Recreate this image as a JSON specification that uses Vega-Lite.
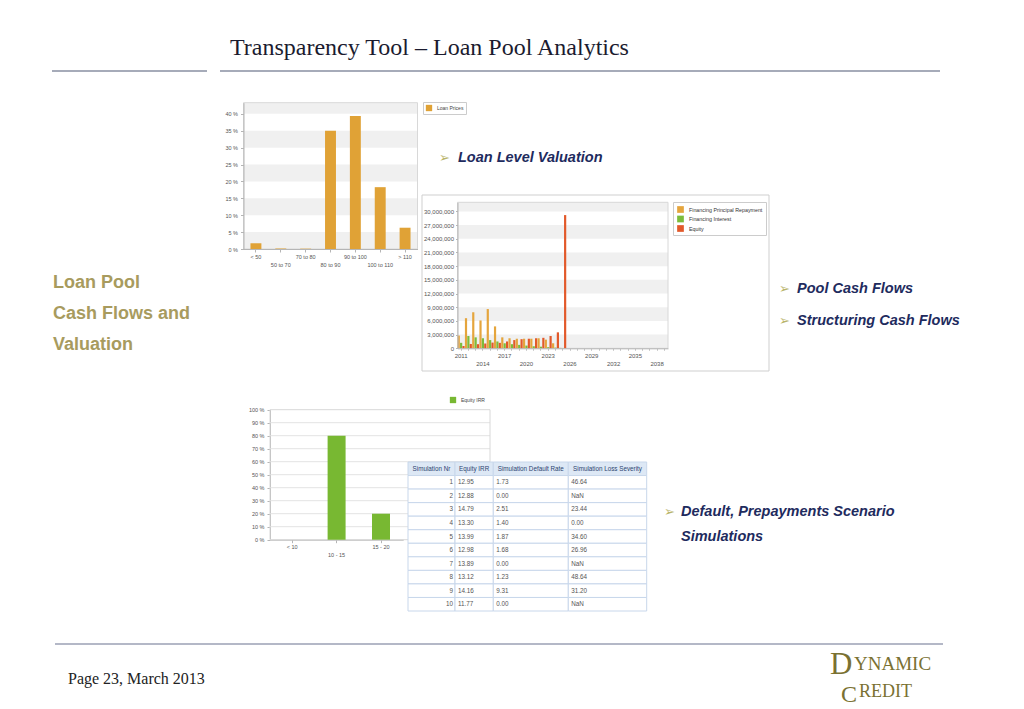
{
"$schema": "https://vega.github.io/schema/vega-lite/v6.json",
"width": 1024, "height": 709,
"autosize": {"type": "none"},
"padding": 0,
"background": "#ffffff",
"config": {"view": {"stroke": null}, "font": "Liberation Sans", "axis": {"labelFont": "Liberation Sans", "grid": false}, "legend": {"labelFont": "Liberation Sans"}},
"datasets": {
  "loanPrices": [
    {"range": "< 50", "share": 1.7},
    {"range": "50 to 70", "share": 0.15},
    {"range": "70 to 80", "share": 0.1},
    {"range": "80 to 90", "share": 35.0},
    {"range": "90 to 100", "share": 39.4},
    {"range": "100 to 110", "share": 18.3},
    {"range": "> 110", "share": 6.3}
  ],
  "loanBands": [{"lo": 0, "hi": 5}, {"lo": 10, "hi": 15}, {"lo": 20, "hi": 25}, {"lo": 30, "hi": 35}, {"lo": 40, "hi": 43.3}],
  "cfBands": [{"lo": 0, "hi": 3000000}, {"lo": 6000000, "hi": 9000000}, {"lo": 12000000, "hi": 15000000}, {"lo": 18000000, "hi": 21000000}, {"lo": 24000000, "hi": 27000000}, {"lo": 30000000, "hi": 32000000}],
  "cashFlows": [
    {"year": 2011, "series": "Financing Principal Repayment", "value": 2800000},
    {"year": 2011, "series": "Financing Interest", "value": 1200000},
    {"year": 2011, "series": "Equity", "value": 500000},
    {"year": 2012, "series": "Financing Principal Repayment", "value": 6600000},
    {"year": 2012, "series": "Financing Interest", "value": 2700000},
    {"year": 2012, "series": "Equity", "value": 950000},
    {"year": 2013, "series": "Financing Principal Repayment", "value": 7900000},
    {"year": 2013, "series": "Financing Interest", "value": 2400000},
    {"year": 2013, "series": "Equity", "value": 900000},
    {"year": 2014, "series": "Financing Principal Repayment", "value": 6100000},
    {"year": 2014, "series": "Financing Interest", "value": 2200000},
    {"year": 2014, "series": "Equity", "value": 1050000},
    {"year": 2015, "series": "Financing Principal Repayment", "value": 8600000},
    {"year": 2015, "series": "Financing Interest", "value": 1800000},
    {"year": 2015, "series": "Equity", "value": 1250000},
    {"year": 2016, "series": "Financing Principal Repayment", "value": 4800000},
    {"year": 2016, "series": "Financing Interest", "value": 1500000},
    {"year": 2016, "series": "Equity", "value": 1200000},
    {"year": 2017, "series": "Financing Principal Repayment", "value": 2400000},
    {"year": 2017, "series": "Financing Interest", "value": 1100000},
    {"year": 2017, "series": "Equity", "value": 1500000},
    {"year": 2018, "series": "Financing Principal Repayment", "value": 2200000},
    {"year": 2018, "series": "Financing Interest", "value": 900000},
    {"year": 2018, "series": "Equity", "value": 1800000},
    {"year": 2019, "series": "Financing Principal Repayment", "value": 2100000},
    {"year": 2019, "series": "Financing Interest", "value": 750000},
    {"year": 2019, "series": "Equity", "value": 2000000},
    {"year": 2020, "series": "Financing Principal Repayment", "value": 2100000},
    {"year": 2020, "series": "Financing Interest", "value": 600000},
    {"year": 2020, "series": "Equity", "value": 2100000},
    {"year": 2021, "series": "Financing Principal Repayment", "value": 2100000},
    {"year": 2021, "series": "Financing Interest", "value": 450000},
    {"year": 2021, "series": "Equity", "value": 2200000},
    {"year": 2022, "series": "Financing Principal Repayment", "value": 2200000},
    {"year": 2022, "series": "Financing Interest", "value": 350000},
    {"year": 2022, "series": "Equity", "value": 2300000},
    {"year": 2023, "series": "Financing Principal Repayment", "value": 1900000},
    {"year": 2023, "series": "Financing Interest", "value": 250000},
    {"year": 2023, "series": "Equity", "value": 2700000},
    {"year": 2024, "series": "Financing Principal Repayment", "value": 1100000},
    {"year": 2024, "series": "Financing Interest", "value": 150000},
    {"year": 2024, "series": "Equity", "value": 3500000},
    {"year": 2025, "series": "Financing Principal Repayment", "value": 100000},
    {"year": 2025, "series": "Financing Interest", "value": 50000},
    {"year": 2025, "series": "Equity", "value": 29200000}
  ],
  "equityIrr": [
    {"bucket": "< 10", "share": 0},
    {"bucket": "10 - 15", "share": 80},
    {"bucket": "15 - 20", "share": 20}
  ],
  "irrGrid": [{"v": 10}, {"v": 20}, {"v": 30}, {"v": 40}, {"v": 50}, {"v": 60}, {"v": 70}, {"v": 80}, {"v": 90}],
  "simTable": [
    {"row": "H", "sim": "Simulation Nr", "irr": "Equity IRR", "dr": "Simulation Default Rate", "ls": "Simulation Loss Severity"},
    {"row": "1", "sim": "1", "irr": "12.95", "dr": "1.73", "ls": "46.64"},
    {"row": "2", "sim": "2", "irr": "12.88", "dr": "0.00", "ls": "NaN"},
    {"row": "3", "sim": "3", "irr": "14.79", "dr": "2.51", "ls": "23.44"},
    {"row": "4", "sim": "4", "irr": "13.30", "dr": "1.40", "ls": "0.00"},
    {"row": "5", "sim": "5", "irr": "13.99", "dr": "1.87", "ls": "34.60"},
    {"row": "6", "sim": "6", "irr": "12.98", "dr": "1.68", "ls": "26.96"},
    {"row": "7", "sim": "7", "irr": "13.89", "dr": "0.00", "ls": "NaN"},
    {"row": "8", "sim": "8", "irr": "13.12", "dr": "1.23", "ls": "48.64"},
    {"row": "9", "sim": "9", "irr": "14.16", "dr": "9.31", "ls": "31.20"},
    {"row": "10", "sim": "10", "irr": "11.77", "dr": "0.00", "ls": "NaN"}
  ]
},
"layer": [
  {"data": {"values": [{"label": "Transparency Tool – Loan Pool Analytics"}]},
   "mark": {"type": "text", "font": "Liberation Serif", "fontSize": 24, "color": "#1b1b2f", "align": "left", "baseline": "alphabetic"},
   "encoding": {"text": {"field": "label", "type": "nominal"}, "x": {"value": 230}, "y": {"value": 55}}},
  {"data": {"values": [{}]}, "mark": {"type": "rule", "color": "#4f5975", "strokeWidth": 1.2},
   "encoding": {"x": {"value": 52}, "x2": {"value": 207}, "y": {"value": 71}}},
  {"data": {"values": [{}]}, "mark": {"type": "rule", "color": "#4f5975", "strokeWidth": 1.2},
   "encoding": {"x": {"value": 220}, "x2": {"value": 940}, "y": {"value": 71}}},
  {"data": {"values": [{"label": "Loan Pool\nCash Flows and\nValuation"}]},
   "mark": {"type": "text", "fontSize": 18, "fontWeight": "bold", "color": "#a89b5e", "align": "left", "baseline": "alphabetic", "lineBreak": "\n", "lineHeight": 31},
   "encoding": {"text": {"field": "label", "type": "nominal"}, "x": {"value": 53}, "y": {"value": 288}}},
  {"data": {"values": [{"label": "➢"}]},
   "mark": {"type": "text", "font": "DejaVu Sans", "fontSize": 13, "color": "#b9b46a", "align": "left", "baseline": "alphabetic"},
   "encoding": {"text": {"field": "label", "type": "nominal"}, "x": {"value": 439}, "y": {"value": 162}}},
  {"data": {"values": [{"label": "➢\n➢"}]},
   "mark": {"type": "text", "font": "DejaVu Sans", "fontSize": 13, "color": "#b9b46a", "align": "left", "baseline": "alphabetic", "lineBreak": "\n", "lineHeight": 32},
   "encoding": {"text": {"field": "label", "type": "nominal"}, "x": {"value": 779}, "y": {"value": 293}}},
  {"data": {"values": [{"label": "➢"}]},
   "mark": {"type": "text", "font": "DejaVu Sans", "fontSize": 13, "color": "#b9b46a", "align": "left", "baseline": "alphabetic"},
   "encoding": {"text": {"field": "label", "type": "nominal"}, "x": {"value": 664}, "y": {"value": 516}}},
  {"data": {"values": [{"label": "Loan Level Valuation"}]},
   "mark": {"type": "text", "fontSize": 14.5, "fontWeight": "bold", "fontStyle": "italic", "color": "#1e2b5e", "align": "left", "baseline": "alphabetic"},
   "encoding": {"text": {"field": "label", "type": "nominal"}, "x": {"value": 458}, "y": {"value": 162}}},
  {"data": {"values": [{"label": "Pool Cash Flows\nStructuring Cash Flows"}]},
   "mark": {"type": "text", "fontSize": 14.5, "fontWeight": "bold", "fontStyle": "italic", "color": "#1e2b5e", "align": "left", "baseline": "alphabetic", "lineBreak": "\n", "lineHeight": 32},
   "encoding": {"text": {"field": "label", "type": "nominal"}, "x": {"value": 797}, "y": {"value": 293}}},
  {"data": {"values": [{"label": "Default, Prepayments Scenario\nSimulations"}]},
   "mark": {"type": "text", "fontSize": 14.5, "fontWeight": "bold", "fontStyle": "italic", "color": "#1e2b5e", "align": "left", "baseline": "alphabetic", "lineBreak": "\n", "lineHeight": 25},
   "encoding": {"text": {"field": "label", "type": "nominal"}, "x": {"value": 681}, "y": {"value": 516}}},

  {"data": {"name": "loanBands"}, "mark": {"type": "rect", "color": "#f0f0f0"},
   "encoding": {
     "x": {"datum": 0, "type": "quantitative", "scale": {"domain": [0, 1], "range": [243.5, 417.5], "nice": false}, "axis": null},
     "x2": {"datum": 1},
     "y": {"field": "lo", "type": "quantitative", "scale": {"domain": [0, 43.3], "range": [249, 102.7], "nice": false}, "axis": null},
     "y2": {"field": "hi"}}},
  {"data": {"values": [{}]}, "mark": {"type": "rect", "fill": "transparent", "stroke": "#d8d8d8", "strokeWidth": 1},
   "encoding": {
     "x": {"datum": 0, "type": "quantitative", "scale": {"domain": [0, 1], "range": [243.5, 417.5], "nice": false}, "axis": null},
     "x2": {"datum": 1},
     "y": {"datum": 0, "type": "quantitative", "scale": {"domain": [0, 43.3], "range": [249, 102.7], "nice": false}, "axis": null},
     "y2": {"datum": 43.3}}},
  {"data": {"name": "loanPrices"}, "mark": {"type": "bar"},
   "encoding": {
     "x": {"field": "range", "type": "nominal", "sort": null,
           "scale": {"domain": ["< 50", "50 to 70", "70 to 80", "80 to 90", "90 to 100", "100 to 110", "> 110"], "range": [243.5, 417.5], "paddingInner": 0.56, "paddingOuter": 0.28},
           "axis": {"orient": "bottom", "offset": -460, "title": null, "zindex": 1, "domainColor": "#b5b5b5", "tickColor": "#b5b5b5", "tickSize": 3, "labelFontSize": 5.5, "labelColor": "#555555", "labelAngle": 0, "labelPadding": 2, "labelLineHeight": 8.5, "labelOverlap": false, "labelBound": false,
                    "labelExpr": "indexof(['50 to 70', '80 to 90', '100 to 110'], datum.value) >= 0 ? ['', datum.value] : datum.value"}},
     "y": {"field": "share", "type": "quantitative", "stack": null,
           "scale": {"domain": [0, 43.3], "range": [249, 102.7], "nice": false},
           "axis": {"orient": "left", "offset": -243.5, "title": null, "zindex": 1, "values": [0, 5, 10, 15, 20, 25, 30, 35, 40], "labelExpr": "datum.value + ' %'", "domainColor": "#b5b5b5", "tickColor": "#b5b5b5", "tickSize": 3, "labelFontSize": 5.5, "labelColor": "#555555", "labelPadding": 3}},
     "color": {"datum": "Loan Prices", "type": "nominal", "scale": {"range": ["#e0a236"]},
               "legend": {"title": null, "orient": "none", "legendX": 423, "legendY": 102, "padding": 2, "strokeColor": "#cccccc", "fillColor": "#ffffff", "symbolType": "square", "symbolSize": 40, "labelFontSize": 5, "labelColor": "#444444"}}}},

  {"data": {"values": [{}]}, "mark": {"type": "rect", "fill": "transparent", "stroke": "#cfcfcf", "strokeWidth": 1},
   "encoding": {
     "x": {"datum": 0, "type": "quantitative", "scale": {"domain": [0, 1], "range": [422, 769], "nice": false}, "axis": null},
     "x2": {"datum": 1},
     "y": {"datum": 0, "type": "quantitative", "scale": {"domain": [0, 1], "range": [371, 195], "nice": false}, "axis": null},
     "y2": {"datum": 1}}},
  {"data": {"name": "cfBands"}, "mark": {"type": "rect", "color": "#f0f0f0"},
   "encoding": {
     "x": {"datum": 0, "type": "quantitative", "scale": {"domain": [0, 1], "range": [457.5, 668], "nice": false}, "axis": null},
     "x2": {"datum": 1},
     "y": {"field": "lo", "type": "quantitative", "scale": {"domain": [0, 32000000], "range": [348.3, 202.3], "nice": false}, "axis": null},
     "y2": {"field": "hi"}}},
  {"data": {"values": [{}]}, "mark": {"type": "rect", "fill": "transparent", "stroke": "#d8d8d8", "strokeWidth": 1},
   "encoding": {
     "x": {"datum": 0, "type": "quantitative", "scale": {"domain": [0, 1], "range": [457.5, 668], "nice": false}, "axis": null},
     "x2": {"datum": 1},
     "y": {"datum": 0, "type": "quantitative", "scale": {"domain": [0, 32000000], "range": [348.3, 202.3], "nice": false}, "axis": null},
     "y2": {"datum": 32000000}}},
  {"data": {"name": "cashFlows"}, "mark": {"type": "bar"},
   "encoding": {
     "x": {"field": "year", "type": "ordinal",
           "scale": {"domain": [2011, 2012, 2013, 2014, 2015, 2016, 2017, 2018, 2019, 2020, 2021, 2022, 2023, 2024, 2025, 2026, 2027, 2028, 2029, 2030, 2031, 2032, 2033, 2034, 2035, 2036, 2037, 2038, 2039], "range": [457.5, 668], "paddingInner": 0.04, "paddingOuter": 0.02},
           "axis": {"orient": "bottom", "offset": -360.7, "title": null, "zindex": 1, "domainColor": "#b5b5b5", "tickColor": "#c5c5c5", "tickSize": 2, "labelFontSize": 6, "labelColor": "#555555", "labelAngle": 0, "labelPadding": 2, "labelLineHeight": 8.3, "labelOverlap": false, "labelBound": false,
                    "labelExpr": "(datum.value - 2011) % 6 == 0 ? '' + datum.value : ((datum.value - 2011) % 3 == 0 ? ['', '' + datum.value] : '')"}},
     "xOffset": {"field": "series", "type": "nominal", "scale": {"domain": ["Financing Principal Repayment", "Financing Interest", "Equity"], "paddingInner": 0.08}},
     "y": {"field": "value", "type": "quantitative", "stack": null,
           "scale": {"domain": [0, 32000000], "range": [348.3, 202.3], "nice": false},
           "axis": {"orient": "left", "offset": -457.5, "title": null, "zindex": 1, "values": [0, 3000000, 6000000, 9000000, 12000000, 15000000, 18000000, 21000000, 24000000, 27000000, 30000000], "format": ",d", "domainColor": "#b5b5b5", "tickColor": "#b5b5b5", "tickSize": 2, "labelFontSize": 6, "labelColor": "#555555", "labelPadding": 2}},
     "color": {"field": "series", "type": "nominal",
               "scale": {"domain": ["Financing Principal Repayment", "Financing Interest", "Equity"], "range": ["#e5a53d", "#7cbc3b", "#e2592a"]},
               "legend": {"title": null, "orient": "none", "legendX": 673, "legendY": 202, "padding": 3, "strokeColor": "#cccccc", "fillColor": "#ffffff", "symbolType": "square", "symbolSize": 45, "labelFontSize": 5.3, "rowPadding": 1.5, "labelColor": "#333333", "labelLimit": 200}}}},

  {"data": {"name": "irrGrid"}, "mark": {"type": "rule", "color": "#e3e3e3", "strokeWidth": 1},
   "encoding": {
     "x": {"datum": 0, "type": "quantitative", "scale": {"domain": [0, 1], "range": [270, 490], "nice": false}, "axis": null},
     "x2": {"datum": 1},
     "y": {"field": "v", "type": "quantitative", "scale": {"domain": [0, 100], "range": [539.7, 409.7], "nice": false}, "axis": null}}},
  {"data": {"values": [{}]}, "mark": {"type": "rect", "fill": "transparent", "stroke": "#d8d8d8", "strokeWidth": 1},
   "encoding": {
     "x": {"datum": 0, "type": "quantitative", "scale": {"domain": [0, 1], "range": [270, 490], "nice": false}, "axis": null},
     "x2": {"datum": 1},
     "y": {"datum": 0, "type": "quantitative", "scale": {"domain": [0, 100], "range": [539.7, 409.7], "nice": false}, "axis": null},
     "y2": {"datum": 100}}},
  {"data": {"name": "equityIrr"}, "mark": {"type": "bar"},
   "encoding": {
     "x": {"field": "bucket", "type": "nominal", "sort": null,
           "scale": {"domain": ["< 10", "10 - 15", "15 - 20"], "range": [270, 403.2], "paddingInner": 0.595, "paddingOuter": 0.2975},
           "axis": {"orient": "bottom", "offset": -169.3, "title": null, "domainColor": "#b5b5b5", "tickColor": "#b5b5b5", "tickSize": 3, "labelFontSize": 5.5, "labelColor": "#555555", "labelAngle": 0, "labelPadding": 2, "labelLineHeight": 7.5, "labelOverlap": false, "labelBound": false,
                    "labelExpr": "datum.value == '10 - 15' ? ['', datum.value] : datum.value"}},
     "y": {"field": "share", "type": "quantitative", "stack": null,
           "scale": {"domain": [0, 100], "range": [539.7, 409.7], "nice": false},
           "axis": {"orient": "left", "offset": -270, "title": null, "values": [0, 10, 20, 30, 40, 50, 60, 70, 80, 90, 100], "labelExpr": "datum.value + ' %'", "domainColor": "#b5b5b5", "tickColor": "#b5b5b5", "tickSize": 3, "labelFontSize": 5.5, "labelColor": "#555555", "labelPadding": 3}},
     "color": {"datum": "Equity IRR", "type": "nominal", "scale": {"range": ["#78b832"]},
               "legend": {"title": null, "orient": "none", "legendX": 448, "legendY": 395, "padding": 1, "symbolType": "square", "symbolSize": 40, "labelFontSize": 5, "labelColor": "#444444"}}}},

  {"data": {"name": "simTable"}, "mark": {"type": "rect", "stroke": "#c8d7eb", "strokeWidth": 1},
   "encoding": {
     "x": {"datum": "Simulation Nr", "type": "nominal", "scale": {"domain": ["Simulation Nr"], "range": [408, 455], "paddingInner": 0, "paddingOuter": 0}, "axis": null},
     "y": {"field": "row", "type": "ordinal", "scale": {"domain": ["H", "1", "2", "3", "4", "5", "6", "7", "8", "9", "10"], "range": [462, 611], "paddingInner": 0, "paddingOuter": 0}, "axis": null},
     "fill": {"condition": {"test": "datum.row === 'H'", "value": "#dde8f5"}, "value": "#ffffff"}}},
  {"data": {"name": "simTable"}, "mark": {"type": "rect", "stroke": "#c8d7eb", "strokeWidth": 1},
   "encoding": {
     "x": {"datum": "Equity IRR", "type": "nominal", "scale": {"domain": ["Equity IRR"], "range": [455, 493.3], "paddingInner": 0, "paddingOuter": 0}, "axis": null},
     "y": {"field": "row", "type": "ordinal", "scale": {"domain": ["H", "1", "2", "3", "4", "5", "6", "7", "8", "9", "10"], "range": [462, 611], "paddingInner": 0, "paddingOuter": 0}, "axis": null},
     "fill": {"condition": {"test": "datum.row === 'H'", "value": "#dde8f5"}, "value": "#ffffff"}}},
  {"data": {"name": "simTable"}, "mark": {"type": "rect", "stroke": "#c8d7eb", "strokeWidth": 1},
   "encoding": {
     "x": {"datum": "Simulation Default Rate", "type": "nominal", "scale": {"domain": ["Simulation Default Rate"], "range": [493.3, 568.3], "paddingInner": 0, "paddingOuter": 0}, "axis": null},
     "y": {"field": "row", "type": "ordinal", "scale": {"domain": ["H", "1", "2", "3", "4", "5", "6", "7", "8", "9", "10"], "range": [462, 611], "paddingInner": 0, "paddingOuter": 0}, "axis": null},
     "fill": {"condition": {"test": "datum.row === 'H'", "value": "#dde8f5"}, "value": "#ffffff"}}},
  {"data": {"name": "simTable"}, "mark": {"type": "rect", "stroke": "#c8d7eb", "strokeWidth": 1},
   "encoding": {
     "x": {"datum": "Simulation Loss Severity", "type": "nominal", "scale": {"domain": ["Simulation Loss Severity"], "range": [568.3, 646.7], "paddingInner": 0, "paddingOuter": 0}, "axis": null},
     "y": {"field": "row", "type": "ordinal", "scale": {"domain": ["H", "1", "2", "3", "4", "5", "6", "7", "8", "9", "10"], "range": [462, 611], "paddingInner": 0, "paddingOuter": 0}, "axis": null},
     "fill": {"condition": {"test": "datum.row === 'H'", "value": "#dde8f5"}, "value": "#ffffff"}}},

  {"data": {"name": "simTable"}, "transform": [{"filter": "datum.row === 'H'"}],
   "mark": {"type": "text", "fontSize": 6.3, "color": "#2c4470", "align": "center", "baseline": "middle"},
   "encoding": {
     "x": {"datum": "Simulation Nr", "type": "nominal", "scale": {"domain": ["Simulation Nr"], "range": [408, 455]}, "axis": null},
     "y": {"field": "row", "type": "ordinal", "scale": {"domain": ["H", "1", "2", "3", "4", "5", "6", "7", "8", "9", "10"], "range": [462, 611], "paddingInner": 0, "paddingOuter": 0}, "axis": null},
     "text": {"field": "sim", "type": "nominal"}}},
  {"data": {"name": "simTable"}, "transform": [{"filter": "datum.row !== 'H'"}],
   "mark": {"type": "text", "fontSize": 6.3, "color": "#555555", "align": "right", "baseline": "middle"},
   "encoding": {
     "x": {"datum": "Simulation Nr", "type": "nominal", "scale": {"domain": ["Simulation Nr"], "range": [453, 453]}, "axis": null},
     "y": {"field": "row", "type": "ordinal", "scale": {"domain": ["H", "1", "2", "3", "4", "5", "6", "7", "8", "9", "10"], "range": [462, 611], "paddingInner": 0, "paddingOuter": 0}, "axis": null},
     "text": {"field": "sim", "type": "nominal"}}},
  {"data": {"name": "simTable"}, "transform": [{"filter": "datum.row === 'H'"}],
   "mark": {"type": "text", "fontSize": 6.3, "color": "#2c4470", "align": "center", "baseline": "middle"},
   "encoding": {
     "x": {"datum": "Equity IRR", "type": "nominal", "scale": {"domain": ["Equity IRR"], "range": [455, 493.3]}, "axis": null},
     "y": {"field": "row", "type": "ordinal", "scale": {"domain": ["H", "1", "2", "3", "4", "5", "6", "7", "8", "9", "10"], "range": [462, 611], "paddingInner": 0, "paddingOuter": 0}, "axis": null},
     "text": {"field": "irr", "type": "nominal"}}},
  {"data": {"name": "simTable"}, "transform": [{"filter": "datum.row !== 'H'"}],
   "mark": {"type": "text", "fontSize": 6.3, "color": "#555555", "align": "left", "baseline": "middle"},
   "encoding": {
     "x": {"datum": "Equity IRR", "type": "nominal", "scale": {"domain": ["Equity IRR"], "range": [458, 458]}, "axis": null},
     "y": {"field": "row", "type": "ordinal", "scale": {"domain": ["H", "1", "2", "3", "4", "5", "6", "7", "8", "9", "10"], "range": [462, 611], "paddingInner": 0, "paddingOuter": 0}, "axis": null},
     "text": {"field": "irr", "type": "nominal"}}},
  {"data": {"name": "simTable"}, "transform": [{"filter": "datum.row === 'H'"}],
   "mark": {"type": "text", "fontSize": 6.3, "color": "#2c4470", "align": "center", "baseline": "middle"},
   "encoding": {
     "x": {"datum": "Simulation Default Rate", "type": "nominal", "scale": {"domain": ["Simulation Default Rate"], "range": [493.3, 568.3]}, "axis": null},
     "y": {"field": "row", "type": "ordinal", "scale": {"domain": ["H", "1", "2", "3", "4", "5", "6", "7", "8", "9", "10"], "range": [462, 611], "paddingInner": 0, "paddingOuter": 0}, "axis": null},
     "text": {"field": "dr", "type": "nominal"}}},
  {"data": {"name": "simTable"}, "transform": [{"filter": "datum.row !== 'H'"}],
   "mark": {"type": "text", "fontSize": 6.3, "color": "#555555", "align": "left", "baseline": "middle"},
   "encoding": {
     "x": {"datum": "Simulation Default Rate", "type": "nominal", "scale": {"domain": ["Simulation Default Rate"], "range": [496.3, 496.3]}, "axis": null},
     "y": {"field": "row", "type": "ordinal", "scale": {"domain": ["H", "1", "2", "3", "4", "5", "6", "7", "8", "9", "10"], "range": [462, 611], "paddingInner": 0, "paddingOuter": 0}, "axis": null},
     "text": {"field": "dr", "type": "nominal"}}},
  {"data": {"name": "simTable"}, "transform": [{"filter": "datum.row === 'H'"}],
   "mark": {"type": "text", "fontSize": 6.3, "color": "#2c4470", "align": "center", "baseline": "middle"},
   "encoding": {
     "x": {"datum": "Simulation Loss Severity", "type": "nominal", "scale": {"domain": ["Simulation Loss Severity"], "range": [568.3, 646.7]}, "axis": null},
     "y": {"field": "row", "type": "ordinal", "scale": {"domain": ["H", "1", "2", "3", "4", "5", "6", "7", "8", "9", "10"], "range": [462, 611], "paddingInner": 0, "paddingOuter": 0}, "axis": null},
     "text": {"field": "ls", "type": "nominal"}}},
  {"data": {"name": "simTable"}, "transform": [{"filter": "datum.row !== 'H'"}],
   "mark": {"type": "text", "fontSize": 6.3, "color": "#555555", "align": "left", "baseline": "middle"},
   "encoding": {
     "x": {"datum": "Simulation Loss Severity", "type": "nominal", "scale": {"domain": ["Simulation Loss Severity"], "range": [571.3, 571.3]}, "axis": null},
     "y": {"field": "row", "type": "ordinal", "scale": {"domain": ["H", "1", "2", "3", "4", "5", "6", "7", "8", "9", "10"], "range": [462, 611], "paddingInner": 0, "paddingOuter": 0}, "axis": null},
     "text": {"field": "ls", "type": "nominal"}}},

  {"data": {"values": [{}]}, "mark": {"type": "rule", "color": "#6b7390", "strokeWidth": 1.2},
   "encoding": {"x": {"value": 55}, "x2": {"value": 943}, "y": {"value": 644}}},
  {"data": {"values": [{"label": "Page 23,  March 2013"}]},
   "mark": {"type": "text", "font": "Liberation Serif", "fontSize": 16, "color": "#222222", "align": "left", "baseline": "alphabetic"},
   "encoding": {"text": {"field": "label", "type": "nominal"}, "x": {"value": 68}, "y": {"value": 684}}},
  {"data": {"values": [{"label": "D"}]},
   "mark": {"type": "text", "font": "Liberation Serif", "fontSize": 31, "color": "#7a7132", "align": "left", "baseline": "alphabetic"},
   "encoding": {"text": {"field": "label", "type": "nominal"}, "x": {"value": 830}, "y": {"value": 674}}},
  {"data": {"values": [{"label": "YNAMIC"}]},
   "mark": {"type": "text", "font": "Liberation Serif", "fontSize": 19, "color": "#7a7132", "align": "left", "baseline": "alphabetic"},
   "encoding": {"text": {"field": "label", "type": "nominal"}, "x": {"value": 854}, "y": {"value": 670}}},
  {"data": {"values": [{"label": "C"}]},
   "mark": {"type": "text", "font": "Liberation Serif", "fontSize": 24, "color": "#7a7132", "align": "left", "baseline": "alphabetic"},
   "encoding": {"text": {"field": "label", "type": "nominal"}, "x": {"value": 841}, "y": {"value": 702}}},
  {"data": {"values": [{"label": "REDIT"}]},
   "mark": {"type": "text", "font": "Liberation Serif", "fontSize": 18, "color": "#7a7132", "align": "left", "baseline": "alphabetic"},
   "encoding": {"text": {"field": "label", "type": "nominal"}, "x": {"value": 859}, "y": {"value": 697}}}
],
"resolve": {"scale": {"x": "independent", "y": "independent", "color": "independent"}, "axis": {"x": "independent", "y": "independent"}, "legend": {"color": "independent"}}
}
